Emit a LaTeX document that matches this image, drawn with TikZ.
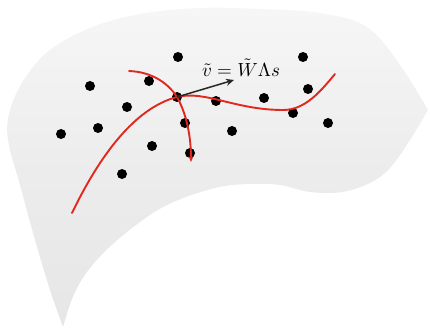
\documentclass[tikz,border=0pt]{standalone}
\usepackage{graphicx}
\usetikzlibrary{arrows.meta}
\definecolor{surftop}{RGB}{246,246,246}
\definecolor{surfbot}{RGB}{230,230,230}
\definecolor{curvered}{RGB}{224,40,30}
\tikzset{
  dot/.style={circle,fill=black,inner sep=0pt,minimum size=10pt},
  redcurve/.style={draw=curvered,line width=1.9pt,line cap=round},
  vecarrow/.style={draw=black!85,line width=1.5pt,-{Stealth[length=8pt,width=7pt]}}
}
\begin{document}
\begin{tikzpicture}[x=1pt,y=-1pt]
\useasboundingbox (0,0) rectangle (430,331);
% surface
\shade[top color=surftop,bottom color=surfbot,middle color=surfbot!60!surftop] plot[smooth,tension=0.6] coordinates{(63,327) (50,290) (35,240) (20,185) (8,140) (10,110) (25,78) (50,50) (90,28) (140,14) (200,8) (260,9) (320,13) (367,27) (400,65) (428,110)}
  -- plot[smooth,tension=0.6] coordinates{(428,110) (410,140) (390,168) (370,183) (342,192) (310,192) (280,185) (250,184) (215,188) (167,205) (127,232) (95,262) (75,292) (63,327)} -- cycle;
% dots
\node[dot] (d1) at (178,57) {};
\node[dot] (d2) at (303,57) {};
\node[dot] (d3) at (90,86) {};
\node[dot] (d4) at (149,81) {};
\node[dot] (d5) at (308,89) {};
\node[dot] (d7) at (127,107) {};
\node[dot] (d8) at (216,101) {};
\node[dot] (d9) at (264,98) {};
\node[dot] (d10) at (293,113) {};
\node[dot] (d11) at (328,123) {};
\node[dot] (d12) at (61,134) {};
\node[dot] (d13) at (98,128) {};
\node[dot] (d14) at (185,123) {};
\node[dot] (d15) at (232,131) {};
\node[dot] (d16) at (152,146) {};
\node[dot] (d17) at (190,153) {};
\node[dot] (d18) at (122,174) {};
% centre point
\node[dot] (c) at (177,97) {};
% red curves
\draw[redcurve] (72,213) .. controls (100,155) and (135,108) .. (c.center)
  .. controls (205,90) and (235,110) .. (283,110)
  .. controls (305,110) and (320,92) .. (335,74);
\draw[redcurve,-{Stealth[length=6pt,width=5pt]}] (129,71) .. controls (155,72) and (170,86) .. (c.center)
  .. controls (186,113) and (191,135) .. (191,162);
% vector
\coordinate (tip) at (234,80);
\draw[vecarrow] (c.center) -- (tip);
\node (lab) at (241,68) {\scalebox{1.9}{$\tilde{v}=\tilde{W}\Lambda s$}};
\end{tikzpicture}
\end{document}
